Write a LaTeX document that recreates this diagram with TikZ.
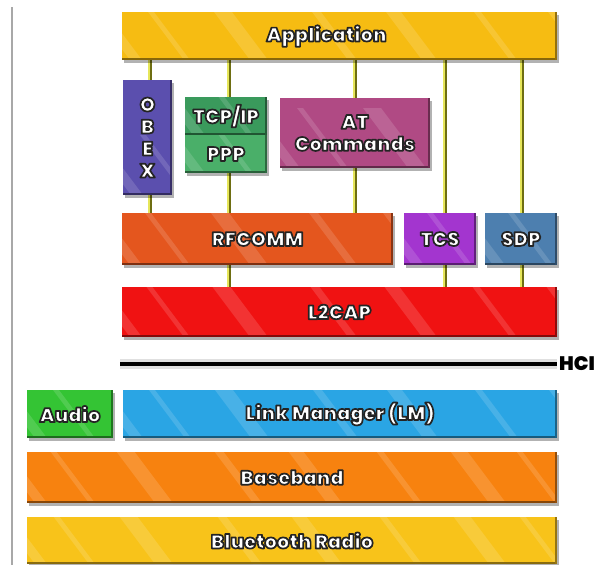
\documentclass[tikz,border=0pt]{standalone}
\usepackage{fontspec}
\setmainfont{DejaVu Sans}
\IfFontExistsTF{Poppins Black}
  {\newfontfamily\heavyfont{Poppins Black}}
  {\newfontfamily\heavyfont{DejaVu Sans Bold}}
\usetikzlibrary{shadows,calc}
\pgfdeclarelayer{background}
\pgfsetlayers{background,main}

% layer colours
\definecolor{appcol}{HTML}{F6BC12}
\definecolor{obexcol}{HTML}{5B4FAE}
\definecolor{tcpcol}{HTML}{3A9A5C}
\definecolor{pppcol}{HTML}{4AAF69}
\definecolor{atcol}{HTML}{B04A84}
\definecolor{rfcol}{HTML}{E4561E}
\definecolor{tcscol}{HTML}{A335CF}
\definecolor{sdpcol}{HTML}{4D7FAF}
\definecolor{l2col}{HTML}{F01212}
\definecolor{audiocol}{HTML}{34C434}
\definecolor{lmcol}{HTML}{2AA5E4}
\definecolor{bbcol}{HTML}{F7820F}
\definecolor{radiocol}{HTML}{F8C31A}
\definecolor{linkdark}{HTML}{6E6E12}
\definecolor{linklight}{HTML}{E6E65A}
\definecolor{rulegray}{HTML}{A8A8A8}

% white lettering with a dark outline (fill + stroke text rendering)
\newcommand\outlined[1]{%
  \special{pdf:literal direct q 2 Tr 1.7 w 1 j 0.14 0.14 0.14 RG}%
  #1%
  \special{pdf:literal direct Q}}
\newcommand\layerfont{\heavyfont\fontsize{19.5pt}{22pt}\selectfont}

\tikzset{
  stackbox/.style={rectangle, inner sep=0pt, fill=#1, text=white,
    font=\layerfont, align=center,
    drop shadow={shadow xshift=1.5pt, shadow yshift=-3pt, opacity=.3, fill=black},
    path picture={
      \foreach \i/\w in {8/12, 62/6, 128/18, 226/9, 300/15, 388/7, 462/17, 528/6}{
        \fill[white, opacity=.14]
          ($(path picture bounding box.south west)+(\i pt,0pt)$) -- ++(\w pt,0pt)
          -- ++(-45pt,60pt) -- ++(-\w pt,0pt) -- cycle;
      }
      \fill[#1!55!black] (path picture bounding box.south west)
        rectangle ([yshift=2.5pt]path picture bounding box.south east);
      \fill[#1!60!black] (path picture bounding box.south east)
        rectangle ([xshift=-2.5pt]path picture bounding box.north east);
    }},
  link/.style={draw=linkdark, line width=3.6pt,
    postaction={draw=linklight, line width=1.6pt, transform canvas={xshift=-.8pt}}},
  hciline/.style={draw=black, line width=4pt},
}

\begin{document}
\begin{tikzpicture}[x=1pt, y=-1pt]
\useasboundingbox (0,0) rectangle (600,565);

% left frame rule
\fill[rulegray] (11,7) rectangle (13,565);

% upper layers
\node[stackbox=appcol, minimum width=435pt, minimum height=48pt] (app) at (339.5,36)
  {\outlined{Application}\kern26pt};
\node[stackbox=obexcol, minimum width=49pt, minimum height=115pt] (obex) at (147.5,137.5)
  {\outlined{O}\\\outlined{B}\\\outlined{E}\\\outlined{X}};
\node[stackbox=tcpcol, minimum width=82pt, minimum height=38pt] (tcp) at (226,116)
  {\outlined{TCP/IP}};
\node[stackbox=pppcol, minimum width=82pt, minimum height=38pt] (ppp) at (226,154)
  {\outlined{PPP}};
\node[stackbox=atcol, minimum width=150pt, minimum height=70pt] (atcmd) at (355,133)
  {\outlined{AT}\\\outlined{Commands}};
\node[stackbox=rfcol, minimum width=271pt, minimum height=52pt] (rfcomm) at (257.5,239)
  {\outlined{RFCOMM}};
\node[stackbox=tcscol, minimum width=72pt, minimum height=52pt] (tcs) at (440,239)
  {\outlined{TCS}};
\node[stackbox=sdpcol, minimum width=72pt, minimum height=52pt] (sdp) at (521,239)
  {\outlined{SDP}};
\node[stackbox=l2col, minimum width=435pt, minimum height=50pt] (l2cap) at (339.5,312)
  {\outlined{L2CAP}};

% host controller interface
\coordinate (hciL) at (120,364);
\coordinate (hciR) at (557,364);
\draw[black!20, line width=10pt, opacity=.6] (hciL) -- (hciR);
\draw[hciline] (hciL) -- (hciR);
\node[anchor=west, inner sep=0pt, font=\layerfont] (hci)
  at ([xshift=2pt]hciR) {HCI};

% lower layers
\node[stackbox=audiocol, minimum width=86pt, minimum height=48pt] (audio) at (70,414)
  {\outlined{Audio}};
\node[stackbox=lmcol, minimum width=434pt, minimum height=48pt] (lm) at (340,414)
  {\outlined{Link Manager (LM)}};
\node[stackbox=bbcol, minimum width=530pt, minimum height=51pt] (bb) at (292,477.5)
  {\outlined{Baseband}};
\node[stackbox=radiocol, minimum width=530pt, minimum height=47pt] (radio) at (292,540.5)
  {\outlined{Bluetooth Radio}};

% vertical service links
\coordinate (xa) at (150,0);
\coordinate (xb) at (229,0);
\coordinate (xc) at (355,0);
\coordinate (xd) at (445,0);
\coordinate (xe) at (522,0);
\begin{pgfonlayer}{background}
\draw[link] (app.south -| xa) -- (obex.north -| xa);
\draw[link] (obex.south -| xa) -- (rfcomm.north -| xa);
\draw[link] (app.south -| xb) -- (tcp.north -| xb);
\draw[link] (ppp.south -| xb) -- (rfcomm.north -| xb);
\draw[link] (rfcomm.south -| xb) -- (l2cap.north -| xb);
\draw[link] (app.south -| xc) -- (atcmd.north -| xc);
\draw[link] (atcmd.south -| xc) -- (rfcomm.north -| xc);
\draw[link] (app.south -| xd) -- (tcs.north -| xd);
\draw[link] (tcs.south -| xd) -- (l2cap.north -| xd);
\draw[link] (app.south -| xe) -- (sdp.north -| xe);
\draw[link] (sdp.south -| xe) -- (l2cap.north -| xe);
\end{pgfonlayer}
\end{tikzpicture}
\end{document}
